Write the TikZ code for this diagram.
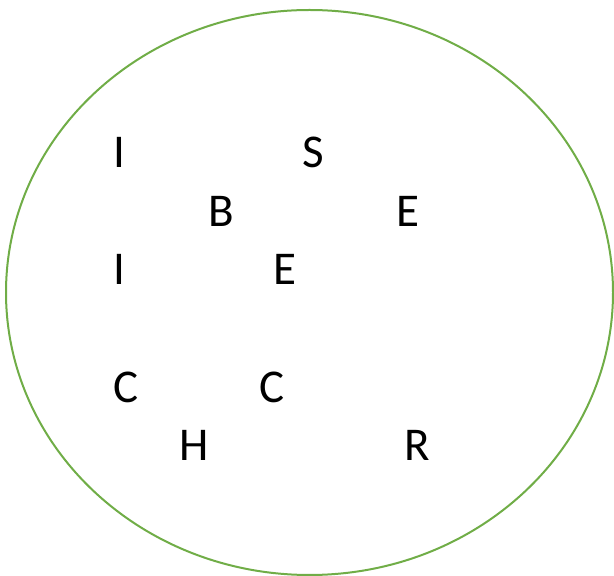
\documentclass[tikz,border=0pt]{standalone}
\usepackage{fontspec}
\setmainfont{Carlito}
\definecolor{ringgreen}{HTML}{70AD47}
\tikzset{letter/.style={inner sep=0pt, font=\fontsize{47}{56}\selectfont, text=black}}
\begin{document}
\begin{tikzpicture}[x=1pt,y=1pt]
\useasboundingbox (0,0) rectangle (614,576);
\draw[ringgreen, line width=2pt] (309.5,283.5) ellipse [x radius=303.5, y radius=282.5];
\node[letter] (i1) at (119,424) {I};
\node[letter] (s1) at (313,424) {S};
\node[letter] (b1) at (221,365) {B};
\node[letter] (e1) at (408,365) {E};
\node[letter] (i2) at (119,307) {I};
\node[letter] (e2) at (285,307) {E};
\node[letter] (c1) at (126,189) {C};
\node[letter] (c2) at (272,189) {C};
\node[letter] (h1) at (194,131) {H};
\node[letter] (r1) at (417,131) {R};
\end{tikzpicture}
\end{document}
